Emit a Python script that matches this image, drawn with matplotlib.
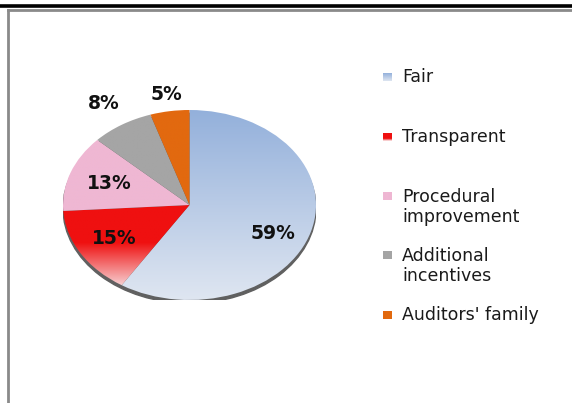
import numpy as np
import matplotlib.pyplot as plt
from matplotlib.colors import LinearSegmentedColormap
from matplotlib.patches import Ellipse
from matplotlib.lines import Line2D

# ---------------------------
# DATA
# ---------------------------
categories = ["Fair", "Transparent", "Procedural\nimprovement",
              "Additional\nincentives", "Auditors' family"]
values = [59, 15, 13, 8, 5]
pct_labels = ["59%", "15%", "13%", "8%", "5%"]

# gradient stops per slice (position over pie height from bottom, colour)
slice_grads = [
    [(0.0, "#dfe6f1"), (1.0, "#93b0db")],
    [(0.0, "#fdf1f1"), (0.07, "#f7d3d5"), (0.3, "#ef1010"), (1.0, "#ef1010")],
    [(0.0, "#efb7d3"), (1.0, "#efb7d3")],
    [(0.0, "#a5a5a5"), (1.0, "#a5a5a5")],
    [(0.0, "#e2690f"), (1.0, "#e2690f")],
]
label_dist = [0.72, 0.69, 0.67, 1.26, 1.18]
label_shift = [-8, 0, 0, 0, 0]  # angular nudge, degrees

W, H = 572, 403
fig = plt.figure(figsize=(W / 100, H / 100), dpi=100)

# frame lines
fig.add_artist(Line2D([0, 1], [1 - 6 / H, 1 - 6 / H], color="black", lw=2.6))
fig.add_artist(Line2D([8 / W, 8 / W], [0, 1 - 10 / H], color="#8a8a8a", lw=2.0))
fig.add_artist(Line2D([8 / W, 1], [1 - 10 / H, 1 - 10 / H], color="#8a8a8a", lw=2.0))

# ---------------------------
# PIE
# ---------------------------
ax = fig.add_axes([63 / W, (H - 300) / H, 253 / W, 190 / H])
shadow = Ellipse((0.0, -0.035), 2.0, 2.0, color="#606060", zorder=0)
ax.add_patch(shadow)

wedges, _ = ax.pie(values, startangle=90, counterclock=False, radius=1,
                   wedgeprops=dict(linewidth=0))
ax.set_aspect("auto")
ax.axis("off")

yy = np.linspace(0, 1, 256).reshape(-1, 1)
for w, stops in zip(wedges, slice_grads):
    w.set_facecolor("none")
    cmap = LinearSegmentedColormap.from_list("g", stops)
    im = ax.imshow(yy, cmap=cmap, origin="lower", extent=[-1, 1, -1, 1],
                   aspect="auto", zorder=1, interpolation="bilinear")
    im.set_clip_path(w)

for w, lab, d, sh in zip(wedges, pct_labels, label_dist, label_shift):
    ang = np.deg2rad((w.theta1 + w.theta2) / 2 + sh)
    ax.text(d * np.cos(ang), d * np.sin(ang), lab, ha="center", va="center",
            fontsize=13.5, fontweight="bold", color="#111111", zorder=3,
            clip_on=False)

ax.set_xlim(-1, 1)
ax.set_ylim(-1, 1)

# ---------------------------
# LEGEND
# ---------------------------
legend_y = [77, 137, 207, 266, 315]
lax = fig.add_axes([0, 0, 1, 1])
lax.axis("off")
lax.set_zorder(-1)
for stops, lab, y in zip(slice_grads, categories, legend_y):
    nlines = lab.count("\n") + 1
    sq_y = y - (nlines - 1) * 10.5
    sq_cmap = LinearSegmentedColormap.from_list("s", stops)
    lax.imshow(yy, cmap=sq_cmap, origin="upper",
               extent=[382.5, 391.5, sq_y - 4, sq_y + 4],
               aspect="auto", interpolation="bilinear")
    lax.text(402, y, lab, ha="left", va="center", fontsize=12.5,
             color="#1a1a1a", linespacing=1.2)
lax.set_xlim(0, W)
lax.set_ylim(H, 0)

fig.savefig("out.png", dpi=100)
